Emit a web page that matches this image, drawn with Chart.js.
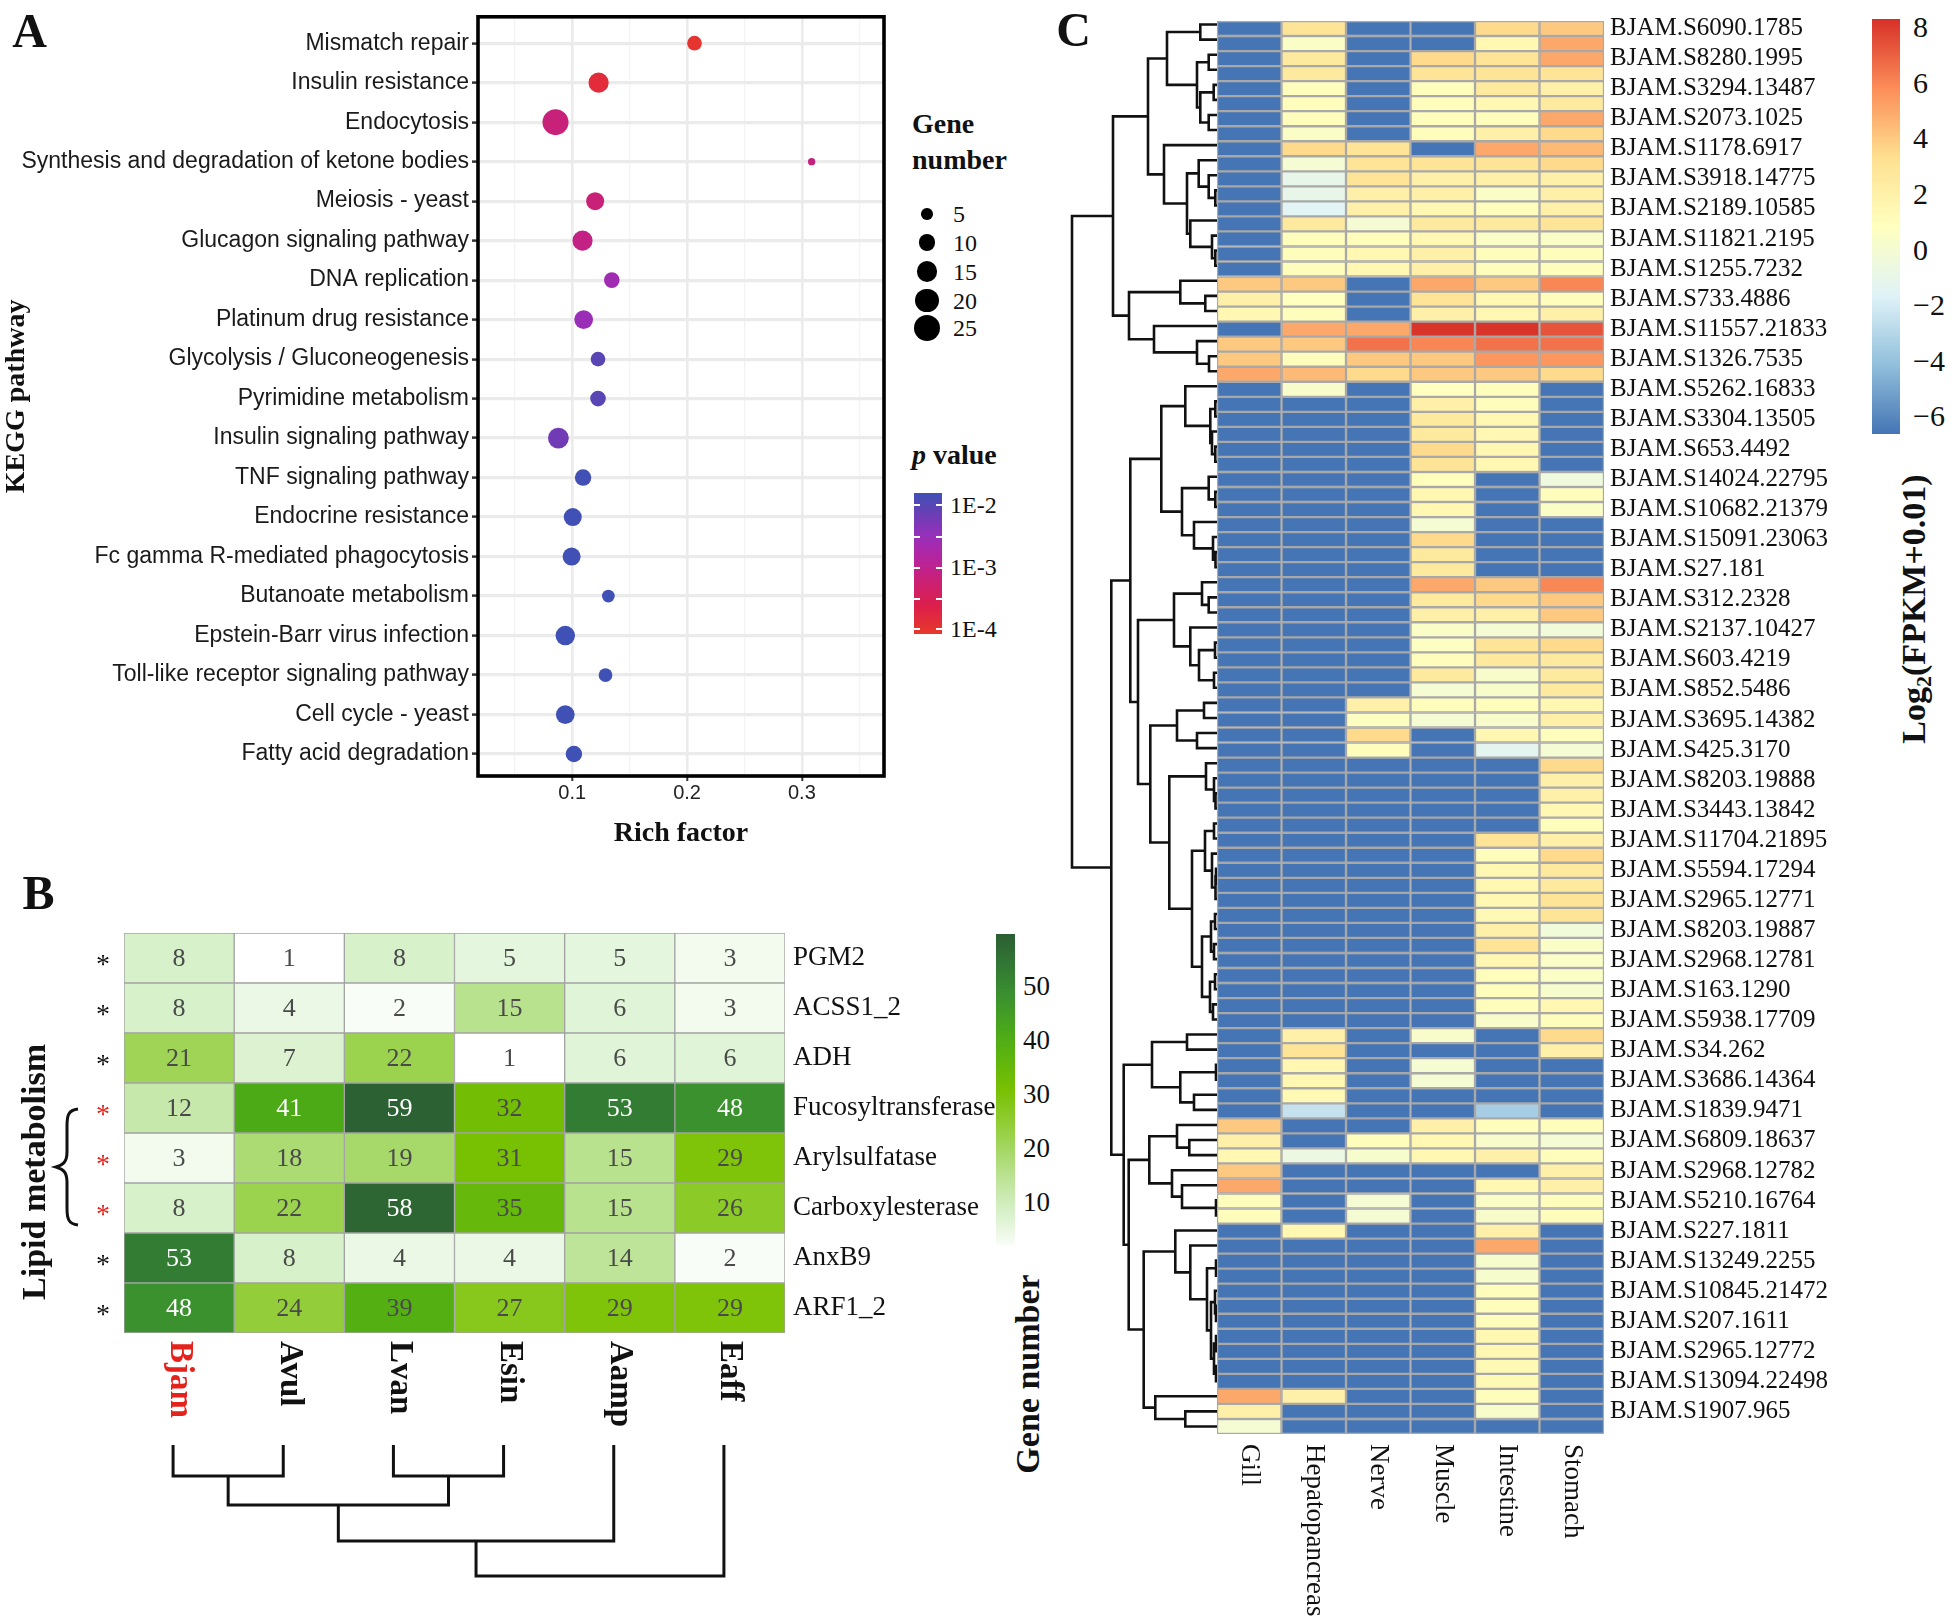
<!DOCTYPE html>
<html>
<head>
<meta charset="utf-8">
<script src="https://cdn.jsdelivr.net/npm/chart.js@4.4.1/dist/chart.umd.min.js"></script>
<style>
  body { margin: 0; background: #fff; }
  #fig { position: relative; width: 1952px; height: 1620px; overflow: hidden; background: #fff;
         font-family: 'Liberation Serif', 'Times New Roman', serif; color: #111; }
  #fig canvas { position: absolute; }
  .t { position: absolute; white-space: nowrap; line-height: 1; }
</style>
</head>
<body>
<div id="fig">
  <canvas id="chartA" width="900" height="860" style="left:0;top:0"></canvas>
  <canvas id="chartB" width="1000" height="540" style="left:0;top:900px"></canvas>
  <canvas id="treeB" width="661" height="140" style="left:118px;top:1445px"></canvas>
  <canvas id="chartC" width="660" height="1620" style="left:1200px;top:0"></canvas>
  <canvas id="treeC" width="151" height="1417" style="left:1066px;top:17px"></canvas>
</div>
<script>
/* =========================================================
   Three-panel figure: KEGG dot plot (A), gene family heatmap (B),
   tissue expression heatmap with row dendrogram (C)
   ========================================================= */
const SERIF = "'Liberation Serif', 'Times New Roman', serif";
const SANS = "'Liberation Sans', Arial, sans-serif";
const RED = '#E3231C';

/* ---- Panel A data ---- */
const pathways = ['Mismatch repair', 'Insulin resistance', 'Endocytosis', 'Synthesis and degradation of ketone bodies',
  'Meiosis - yeast', 'Glucagon signaling pathway', 'DNA replication', 'Platinum drug resistance',
  'Glycolysis / Gluconeogenesis', 'Pyrimidine metabolism', 'Insulin signaling pathway', 'TNF signaling pathway',
  'Endocrine resistance', 'Fc gamma R-mediated phagocytosis', 'Butanoate metabolism', 'Epstein-Barr virus infection',
  'Toll-like receptor signaling pathway', 'Cell cycle - yeast', 'Fatty acid degradation'];
const richFactor = [0.2065, 0.123, 0.0855, 0.3085, 0.120, 0.109, 0.1345, 0.110, 0.1225, 0.1225,
  0.088, 0.1095, 0.1005, 0.0995, 0.1315, 0.094, 0.129, 0.094, 0.1015];
const geneNumber = [8, 15, 25, 2, 12, 15, 9, 13, 8, 9, 16, 10, 12, 12, 6, 14, 7, 13, 10];
const pValue = [1.2e-4, 1.6e-4, 6.3e-4, 7e-4, 6e-4, 7.5e-4, 2e-3, 2.3e-3, 6.5e-3, 6.5e-3,
  4.5e-3, 9.5e-3, 9.8e-3, 9.8e-3, 9.9e-3, 9.9e-3, 9.9e-3, 9.9e-3, 9.9e-3];
const richMajor = [0.1, 0.2, 0.3];
const richGrid = [0.05, 0.1, 0.15, 0.2, 0.25, 0.3, 0.35];
const sizeBreaks = [5, 10, 15, 20, 25];
const pBreaks = [1e-2, 1e-3, 1e-4];
const pBreakLabels = ['1E-2', '1E-3', '1E-4'];

/* ---- Panel B data ---- */
const species = ['Bjam', 'Avul', 'Lvan', 'Esin', 'Aamp', 'Eaff'];
const families = ['PGM2', 'ACSS1_2', 'ADH', 'Fucosyltransferase', 'Arylsulfatase', 'Carboxylesterase', 'AnxB9', 'ARF1_2'];
const familyCounts = [
  [8, 1, 8, 5, 5, 3],
  [8, 4, 2, 15, 6, 3],
  [21, 7, 22, 1, 6, 6],
  [12, 41, 59, 32, 53, 48],
  [3, 18, 19, 31, 15, 29],
  [8, 22, 58, 35, 15, 26],
  [53, 8, 4, 4, 14, 2],
  [48, 24, 39, 27, 29, 29]
];
const lipidFlag = [0, 0, 0, 1, 1, 1, 0, 0];
const countTicks = [50, 40, 30, 20, 10];
const speciesTree = [131, [96, [60, [31, 0, 1], [31, 2, 3]], 4], 5];

/* ---- Panel C data ---- */
const tissues = ['Gill', 'Hepatopancreas', 'Nerve', 'Muscle', 'Intestine', 'Stomach'];
const geneIds = ['BJAM.S6090.1785', 'BJAM.S8280.1995', 'BJAM.S3294.13487', 'BJAM.S2073.1025', 'BJAM.S1178.6917',
  'BJAM.S3918.14775', 'BJAM.S2189.10585', 'BJAM.S11821.2195', 'BJAM.S1255.7232', 'BJAM.S733.4886',
  'BJAM.S11557.21833', 'BJAM.S1326.7535', 'BJAM.S5262.16833', 'BJAM.S3304.13505', 'BJAM.S653.4492',
  'BJAM.S14024.22795', 'BJAM.S10682.21379', 'BJAM.S15091.23063', 'BJAM.S27.181', 'BJAM.S312.2328',
  'BJAM.S2137.10427', 'BJAM.S603.4219', 'BJAM.S852.5486', 'BJAM.S3695.14382', 'BJAM.S425.3170',
  'BJAM.S8203.19888', 'BJAM.S3443.13842', 'BJAM.S11704.21895', 'BJAM.S5594.17294', 'BJAM.S2965.12771',
  'BJAM.S8203.19887', 'BJAM.S2968.12781', 'BJAM.S163.1290', 'BJAM.S5938.17709', 'BJAM.S34.262',
  'BJAM.S3686.14364', 'BJAM.S1839.9471', 'BJAM.S6809.18637', 'BJAM.S2968.12782', 'BJAM.S5210.16764',
  'BJAM.S227.1811', 'BJAM.S13249.2255', 'BJAM.S10845.21472', 'BJAM.S207.1611', 'BJAM.S2965.12772',
  'BJAM.S13094.22498', 'BJAM.S1907.965'];
const L = -6.64; // log2(0 + 0.01): not expressed
const expr = [
  [L, 3, L, L, 3.5, 4], [L, 0.5, L, L, 1.5, 5], [L, 2.5, L, 3.5, 3, 5], [L, 2.5, L, 3, 3, 3],
  [L, 1, L, 1, 2.5, 2], [L, 1, L, 1, 1.5, 2.5], [L, 1, L, 1, 1, 5], [L, 0.5, L, 1, 2, 3.5],
  [L, 3.5, 3, L, 5, 4.5], [L, 0, 3, 3, 3, 3.5], [L, -1, 3, 2, 2, 2], [L, -1, 2, 2, 0.5, 2],
  [L, -1.5, 2, 1.5, 1, 2], [L, 2.5, 0, 2.5, 2.5, 3], [L, 1, 1, 1.5, 0.5, 0.5], [L, 1, 1.5, 2, 1, 1],
  [L, 1, 1.5, 2, 1, 1], [4, 4, L, 5, 4, 6], [2, 0.8, L, 3, 1.5, 1], [1.5, 1, L, 2, 1.5, 2],
  [L, 5, 5, 8.2, 8.2, 7.3], [4, 4, 6.5, 6, 6.5, 6.5], [4, 1, 4, 4, 5.5, 5.5], [5, 4.5, 3.5, 4, 4, 3.5],
  [L, 0.3, L, 0.8, 1, L], [L, L, L, 2, 1, L], [L, L, L, 2.5, 1.5, L], [L, L, L, 2.5, 1.5, L],
  [L, L, L, 3.5, 1.5, L], [L, L, L, 3, 1.5, L], [L, L, L, 1, L, -0.5], [L, L, L, 1.5, L, 1],
  [L, L, L, 1.5, L, 0.5], [L, L, L, 0, L, L], [L, L, L, 3.5, L, L], [L, L, L, 2.5, L, L],
  [L, L, L, 2.5, L, L], [L, L, L, 5, 4, 6], [L, L, L, 2.5, 3.5, 4], [L, L, L, 2, 2, 4],
  [L, L, L, 0.5, 0, -0.3], [L, L, L, 0.7, 3, 3.5], [L, L, L, 1, 2.5, 2.5], [L, L, L, 2.5, 0.3, 2.5],
  [L, L, L, 0, 0.3, 2.5], [L, L, 2, 1, 1, 1.5], [L, L, 0.7, 0, 0.3, 2], [L, L, 3.5, L, 1.5, 1],
  [L, L, 1, L, -1.3, 0], [L, L, L, L, L, 3.5], [L, L, L, L, L, 2], [L, L, L, L, L, 2],
  [L, L, L, L, L, 1.5], [L, L, L, L, L, 1], [L, L, L, L, 3, 2], [L, L, L, L, 1, 3.5],
  [L, L, L, L, 1.5, 2.5], [L, L, L, L, 1.5, 2.5], [L, L, L, L, 1.5, 3], [L, L, L, L, 1.3, 3],
  [L, L, L, L, 2, -0.3], [L, L, L, L, 3, 0.5], [L, L, L, L, 1.5, 0.5], [L, L, L, L, 1, 0.5],
  [L, L, L, L, 1, 0.2], [L, L, L, L, 1, 1.5], [L, L, L, L, 0.3, 1], [L, 2, L, 0.3, L, 3.5],
  [L, 3, L, L, L, 2], [L, 1.5, L, 0, L, L], [L, 1.5, L, 0, L, L], [L, 1.3, L, L, L, L],
  [L, -2.5, L, L, -3.5, L], [4, L, L, 2, 1, 1], [2, L, 1, 1.5, 0.3, 0], [1.5, -0.7, 0.2, 1.5, 2, 1],
  [4, L, L, L, L, 2], [5, L, L, L, 1.5, 2], [1, L, 0, L, 0.5, 1], [1, L, 0, L, 0.3, 1],
  [L, 1.5, L, L, 2, L], [L, L, L, L, 5, L], [L, L, L, L, 0.2, L], [L, L, L, L, 0.2, L],
  [L, L, L, L, 1, L], [L, L, L, L, 1, L], [L, L, L, L, 1, L], [L, L, L, L, 1.5, L],
  [L, L, L, L, 1.5, L], [L, L, L, L, 1.3, L], [L, L, L, L, 1.3, L], [5, 2, L, L, 1, L],
  [2, L, L, L, 0.3, L], [0, L, L, L, L, L]
];
const exprRange = [-6.64, 8.3];
const exprTicks = [8, 6, 4, 2, 0, -2, -4, -6];
// row dendrogram: [height, left, right], leaves are row indices
const rowTree =
[145,
  [104,
    [69,
      [50, [16.7, 0, 1], [20, [8.3, 2, 3], [16.7, [3.3, 4, 5], [8.3, 6, 7]]]],
      [53, 8, [30, [18.3, 9, [8.3, 10, [1.7, 11, 12]]], [26.7, 13, [5, 14, [1.7, 15, 16]]]]]],
    [88,
      [36.7, 17, [11.7, 18, 19]],
      [63, 20, [20, 21, [8, 22, 23]]]]],
  [105.7,
    [86.7,
      [55.7,
        [31.7, 24, [6.7, [1.7, 25, 26], [5, 27, [1.7, 28, 29]]]],
        [35, [8.3, 30, [1.7, 31, 32]], [23, 33, [4, 34, [1.5, 35, 36]]]]],
      [79,
        [43, [15, 37, [8.3, 38, 39]], [26.7, 40, [18, [2, 41, 42], [3, 43, 44]]]],
        [66.7,
          [40, [13, 45, 46], [20, 47, 48]],
          [47.7,
            [11, 49, [3, 50, [1.5, 51, 52]]],
            [25,
              [12, [3, 53, 54], [5, 55, [1.5, [1, 56, 57], 58]]],
              [15, [6, [2, 59, 60], [3, 61, 62]], [7, [2, 63, 64], [4, 65, 66]]]]]]]],
    [93.3,
      [65, [30, 67, 68], [36.7, [1, 69, 70], [23, 71, 72]]],
      [88.3,
        [67.7, [40, 73, [27.7, 74, 75]], [45, 76, [35, 77, [1, 78, 79]]]],
        [73.3,
          [41.7, 80, [26.7, 81, [10, [1, 82, 83], [6, [2, 84, [1, 85, 86]], [3, [1, 87, 88], [1, 89, 90]]]]]],
          [61.7, 91, [31.7, 92, 93]]]]]]];

/* ---- colour helpers ---- */
function hexRgb(h){ const n = parseInt(h.slice(1), 16); return [n >> 16 & 255, n >> 8 & 255, n & 255]; }
function ramp(stops, v){
  if (v <= stops[0][0]) return stops[0][1];
  for (let i = 1; i < stops.length; i++){
    if (v <= stops[i][0]){
      const f = (v - stops[i-1][0]) / (stops[i][0] - stops[i-1][0]);
      const a = hexRgb(stops[i-1][1]), b = hexRgb(stops[i][1]);
      return `rgb(${a.map((c, k) => Math.round(c + (b[k] - c) * f)).join(',')})`;
    }
  }
  return stops[stops.length - 1][1];
}
const pStops = [[0,'#E8392A'],[0.2,'#DC1F4B'],[0.4,'#C8217A'],[0.55,'#B424A2'],[0.7,'#9630BA'],[0.85,'#6B3DB5'],[1,'#3F51B5']];
const pColor = p => ramp(pStops, (Math.log10(p) + 4) / 2);
const countStops = [[1,'#FFFFFF'],[5,'#E4F6DD'],[10,'#CFEDBD'],[20,'#A3D661'],[30,'#7CC200'],[40,'#4FAE14'],[50,'#368A35'],[59.7,'#2B5E33']];
const countColor = v => ramp(countStops, v);
const rdylbu = ['#4575B4','#91BFDB','#E0F3F8','#FFFFBF','#FEE090','#FC8D59','#D73027'];
const exprStops = rdylbu.map((c, i) => [exprRange[0] + (exprRange[1] - exprRange[0]) * i / 6, c]);
const exprColor = v => ramp(exprStops, v);
const bubbleRadius = n => 2.6 * Math.sqrt(n);

function treePoints(tree, horizontal){
  const pts = [];
  (function walk(node){
    if (typeof node === 'number') return {p: node, h: 0};
    const [h, a, b] = node;
    const A = walk(a), B = walk(b);
    [[A.p, A.h], [A.p, h], [B.p, h], [B.p, B.h]].forEach(([p, hh]) =>
      pts.push(horizontal ? {x: hh, y: p} : {x: p, y: hh}));
    pts.push({x: NaN, y: NaN});
    return {p: (A.p + B.p) / 2, h};
  })(tree);
  return pts;
}

const base = { responsive: false, animation: false, devicePixelRatio: 1,
  plugins: { legend: { display: false }, tooltip: { enabled: false } } };

/* ---- Panel A ---- */
const isMajor = v => richMajor.some(m => Math.abs(m - v) < 1e-9);
const panelBorder = { id: 'panelBorder', afterDraw(c){
  const { ctx, chartArea: a } = c;
  ctx.save(); ctx.lineWidth = 3.6; ctx.strokeStyle = '#000';
  ctx.strokeRect(a.left, a.top, a.right - a.left, a.bottom - a.top); ctx.restore();
}};
new Chart(document.getElementById('chartA'), {
  type: 'bubble',
  data: { datasets: [{
    data: pathways.map((p, i) => ({ x: richFactor[i], y: i, r: bubbleRadius(geneNumber[i]) })),
    backgroundColor: pValue.map(pColor), borderWidth: 0
  }]},
  options: { ...base,
    layout: { padding: { top: 15, right: 16, left: 0, bottom: 0 } },
    scales: {
      x: { type: 'linear', min: 0.018, max: 0.3715,
        afterBuildTicks: s => { s.ticks = richGrid.map(v => ({ value: v })); },
        afterFit: s => { s.height = 84; },
        border: { display: false },
        grid: { color: c => isMajor(c.tick.value) ? '#EBEBEB' : '#F3F3F3',
                lineWidth: c => isMajor(c.tick.value) ? 2.6 : 1.3,
                tickColor: c => isMajor(c.tick.value) ? '#333' : 'rgba(0,0,0,0)',
                tickLength: 5, tickWidth: 2 },
        ticks: { callback: v => isMajor(v) ? v.toFixed(1) : '', autoSkip: false, maxRotation: 0,
                 font: { family: SANS, size: 20 }, color: '#222', padding: 0 },
        title: { display: true, text: 'Rich factor', color: '#111', padding: { top: 0, bottom: 9 },
                 font: { family: SERIF, size: 28, weight: 'bold' } } },
      y: { type: 'linear', reverse: true, min: -0.668, max: 18.557,
        afterBuildTicks: s => { s.ticks = pathways.map((p, i) => ({ value: i })); },
        afterFit: s => { s.width = 478; },
        border: { display: false },
        grid: { color: '#EBEBEB', lineWidth: 3.2, tickColor: '#333', tickLength: 6, tickWidth: 2.5 },
        ticks: { callback: v => pathways[v], autoSkip: false, font: { family: SANS, size: 23 }, color: '#1a1a1a', padding: 3 },
        title: { display: true, text: 'KEGG pathway', color: '#111', padding: 0,
                 font: { family: SERIF, size: 28, weight: 'bold' } } }
    }
  },
  plugins: [panelBorder]
});

/* ---- Panel B ---- */
const cellText = { id: 'cellText', afterDatasetsDraw(c){
  const ctx = c.ctx; ctx.save();
  ctx.font = `26px ${SERIF}`; ctx.textAlign = 'center'; ctx.textBaseline = 'middle';
  c.data.datasets.forEach((ds, j) => c.getDatasetMeta(j).data.forEach((bar, i) => {
    const v = familyCounts[i][j];
    ctx.fillStyle = v >= 40 ? '#ffffff' : '#4a4a4a';
    ctx.fillText(String(v), (bar.x + bar.base) / 2, bar.y + 1);
  }));
  ctx.restore();
}};
function columnLabels(id, names, font, colorOf, gap){
  return { id, afterDraw(c){
    const { ctx, chartArea: a, scales: { x } } = c; ctx.save();
    ctx.font = font; ctx.textAlign = 'left'; ctx.textBaseline = 'middle';
    names.forEach((n, j) => {
      ctx.save(); ctx.translate(x.getPixelForValue(j + 0.5), a.bottom + gap); ctx.rotate(Math.PI / 2);
      ctx.fillStyle = colorOf(j); ctx.fillText(n, 0, 0); ctx.restore();
    });
    ctx.restore();
  }};
}
new Chart(document.getElementById('chartB'), {
  type: 'bar',
  data: { labels: families, datasets: species.map((sp, j) => ({
    label: sp, data: families.map(() => 1),
    backgroundColor: familyCounts.map(row => countColor(row[j])),
    borderColor: '#A3A3A3', borderWidth: 1, borderSkipped: false, categoryPercentage: 1, barPercentage: 1 })) },
  options: { ...base, indexAxis: 'y',
    layout: { padding: { top: 33, bottom: 107, left: 0, right: 0 } },
    scales: {
      x: { display: false, stacked: true, min: 0, max: 6 },
      y: { position: 'left', stacked: true, offset: true, afterFit: s => { s.width = 124; },
        grid: { display: false, drawTicks: false }, border: { display: false },
        ticks: { callback: () => '*', color: c => lipidFlag[c.index] ? RED : '#111',
                 font: { family: SERIF, size: 28 }, padding: 14, labelOffset: 8 } },
      y2: { type: 'category', labels: families, position: 'right', offset: true, afterFit: s => { s.width = 215; },
        grid: { display: false, drawTicks: false }, border: { display: false },
        ticks: { font: { family: SERIF, size: 27 }, color: '#111', padding: 8 } }
    }
  },
  plugins: [cellText, columnLabels('speciesLabels', species, `bold 33px ${SERIF}`, j => j === 0 ? RED : '#111', 8)]
});

new Chart(document.getElementById('treeB'), {
  type: 'scatter',
  data: { datasets: [{ data: treePoints(speciesTree, false), showLine: true, pointRadius: 0,
    borderColor: '#111', borderWidth: 3, spanGaps: false, clip: false }] },
  options: { ...base, layout: { padding: 0 },
    scales: { x: { display: false, min: -0.5, max: 5.5 }, y: { display: false, min: 0, max: 140, reverse: true } } }
});

/* ---- Panel C ---- */
new Chart(document.getElementById('chartC'), {
  type: 'bar',
  data: { labels: expr.map((r, i) => String(i)), datasets: tissues.map((t, j) => ({
    label: t, data: expr.map(() => 1),
    backgroundColor: expr.map(r => exprColor(r[j])),
    borderColor: '#A8A8A8', borderWidth: 1.5, borderSkipped: false, categoryPercentage: 1, barPercentage: 1 })) },
  options: { ...base, indexAxis: 'y',
    layout: { padding: { top: 17, bottom: 186, left: 17, right: 0 } },
    scales: {
      x: { display: false, stacked: true, min: 0, max: 6 },
      y: { position: 'right', stacked: true, offset: true, afterFit: s => { s.width = 256; },
        grid: { display: false, drawTicks: false }, border: { display: false },
        ticks: { autoSkip: false, callback: (v, i) => i % 2 === 0 ? geneIds[i / 2] : '',
                 font: { family: SERIF, size: 25 }, color: '#111', padding: 6 } }
    }
  },
  plugins: [columnLabels('tissueLabels', tissues, `27px ${SERIF}`, () => '#111', 10)]
});

new Chart(document.getElementById('treeC'), {
  type: 'scatter',
  data: { datasets: [{ data: treePoints(rowTree, true), showLine: true, pointRadius: 0,
    borderColor: '#111', borderWidth: 2.6, spanGaps: false, clip: false }] },
  options: { ...base, layout: { padding: 0 },
    scales: { x: { display: false, min: 0, max: 151, reverse: true },
              y: { display: false, min: -0.5, max: 93.5, reverse: true } } }
});

/* ---- legends, titles and panel letters (html) ---- */
const fig = document.getElementById('fig');
function put(html, x, y, css, mode){
  const d = document.createElement('div');
  d.className = 't'; d.innerHTML = html;
  d.style.left = x + 'px'; d.style.top = y + 'px';
  const tf = { c: 'translate(-50%,-50%)', l: 'translate(0,-50%)', r: 'translate(-50%,-50%) rotate(-90deg)' };
  d.style.transform = tf[mode || 'c'];
  Object.assign(d.style, css || {});
  fig.appendChild(d); return d;
}
function box(x, y, w, h, css){
  const d = document.createElement('div');
  Object.assign(d.style, { position: 'absolute', left: x + 'px', top: y + 'px', width: w + 'px', height: h + 'px' }, css);
  fig.appendChild(d); return d;
}
const bold = (size) => ({ fontWeight: 'bold', fontSize: size + 'px' });

put('A', 29.5, 31, bold(48));
put('B', 38.5, 893, bold(48));
put('C', 1073.5, 30, bold(48));

// A: size legend
put('Gene', 912, 124, bold(28), 'l');
put('number', 912, 160, bold(28), 'l');
const sizeY = [214, 242.5, 271.5, 300.5, 328];
sizeBreaks.forEach((n, i) => {
  const d = 2 * bubbleRadius(n);
  box(927 - d / 2, sizeY[i] - d / 2, d, d, { background: '#000', borderRadius: '50%' });
  put(String(n), 953, sizeY[i], { fontSize: '24px' }, 'l');
});
// A: p value colour bar
put('<i>p</i> value', 912, 455, bold(28), 'l');
const pTop = 493, pBot = 634, pY = p => 505 + (-2 - Math.log10(p)) * 62;
box(914, pTop, 28, pBot - pTop, { background: `linear-gradient(to bottom, ${[...Array(11)].map((_, k) =>
  `${ramp(pStops, 1 - k / 10)} ${k * 10}%`).join(',')})` });
[505, 537, 568, 599, 629].forEach(y => {
  box(914, y - 1, 6, 2, { background: '#fff' });
  box(936, y - 1, 6, 2, { background: '#fff' });
});
pBreaks.forEach((p, i) => put(pBreakLabels[i], 950, pY(p), { fontSize: '24px' }, 'l'));

// B: colour bar, titles, brace
const cTop = 934, cBot = 1245, cY = v => 986 + (50 - v) * 5.39;
box(996, cTop, 19, cBot - cTop, { background: `linear-gradient(to bottom, ${[...Array(11)].map((_, k) =>
  `${countColor(59.7 - k * 5.78)} ${k * 10}%`).join(',')})` });
countTicks.forEach(v => put(String(v), 1023, cY(v), { fontSize: '27px' }, 'l'));
put('Gene number', 1028, 1374, bold(34), 'r');
put('Lipid metabolism', 34, 1172, bold(34), 'r');
const svgNS = 'http://www.w3.org/2000/svg';
const svg = document.createElementNS(svgNS, 'svg');
svg.setAttribute('width', '40'); svg.setAttribute('height', '130');
Object.assign(svg.style, { position: 'absolute', left: '48px', top: '1102px' });
const brace = document.createElementNS(svgNS, 'path');
brace.setAttribute('d', 'M30 7 C20 8 19 14 19 24 L19 50 C19 60 15 63 8 65 C15 67 19 70 19 80 L19 106 C19 116 20 122 30 123');
brace.setAttribute('fill', 'none'); brace.setAttribute('stroke', '#111'); brace.setAttribute('stroke-width', '3');
svg.appendChild(brace); fig.appendChild(svg);

// C: colour bar and title
const eTop = 19, eH = 415, eY = v => eTop + (exprRange[1] - v) / (exprRange[1] - exprRange[0]) * eH;
box(1872, eTop, 28, eH, { background: `linear-gradient(to top, ${rdylbu.map((c, i) => `${c} ${(i * 100 / 6).toFixed(2)}%`).join(',')})` });
exprTicks.forEach(v => put(v < 0 ? '\u2212' + Math.abs(v) : String(v), 1913, eY(v), { fontSize: '30px' }, 'l'));
put('Log<sub style="font-size:22px;vertical-align:-6px">2</sub>(FPKM+0.01)', 1916, 609, bold(34), 'r');
</script>
</body>
</html>
